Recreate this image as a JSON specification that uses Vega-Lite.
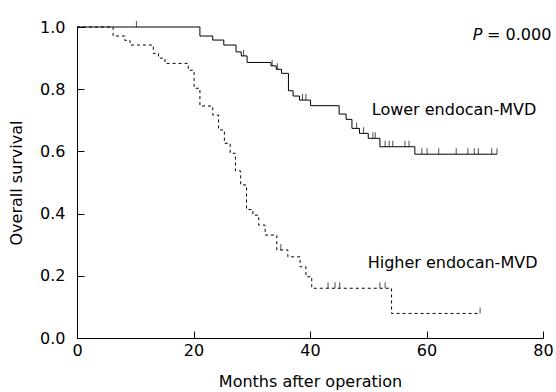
{
  "$schema": "https://vega.github.io/schema/vega-lite/v6.json",
  "width": 466,
  "height": 311,
  "autosize": "none",
  "padding": {"left": 77, "top": 27, "right": 13, "bottom": 54},
  "background": "white",
  "config": {
    "view": {"stroke": null},
    "font": "DejaVu Sans",
    "axis": {
      "grid": false,
      "domainColor": "#000",
      "domainWidth": 1,
      "tickColor": "#000",
      "tickWidth": 1,
      "labelColor": "#000",
      "titleColor": "#000",
      "labelFont": "DejaVu Sans",
      "titleFont": "DejaVu Sans",
      "labelFontSize": 16,
      "titleFontSize": 16,
      "titleFontWeight": "normal"
    }
  },
  "datasets": {
    "curves": [
      {"group": "Higher", "month": 0, "survival": 1.0},
      {"group": "Higher", "month": 6.2, "survival": 0.971},
      {"group": "Higher", "month": 8.2, "survival": 0.957},
      {"group": "Higher", "month": 9.1, "survival": 0.942},
      {"group": "Higher", "month": 13.1, "survival": 0.915},
      {"group": "Higher", "month": 14.0, "survival": 0.9},
      {"group": "Higher", "month": 15.1, "survival": 0.883},
      {"group": "Higher", "month": 19.1, "survival": 0.861},
      {"group": "Higher", "month": 20.1, "survival": 0.803},
      {"group": "Higher", "month": 21.1, "survival": 0.746},
      {"group": "Higher", "month": 23.3, "survival": 0.717},
      {"group": "Higher", "month": 24.3, "survival": 0.669},
      {"group": "Higher", "month": 25.3, "survival": 0.626},
      {"group": "Higher", "month": 26.3, "survival": 0.594},
      {"group": "Higher", "month": 27.2, "survival": 0.537},
      {"group": "Higher", "month": 28.1, "survival": 0.492},
      {"group": "Higher", "month": 29.1, "survival": 0.413},
      {"group": "Higher", "month": 30.2, "survival": 0.395},
      {"group": "Higher", "month": 31.2, "survival": 0.363},
      {"group": "Higher", "month": 32.3, "survival": 0.331},
      {"group": "Higher", "month": 34.3, "survival": 0.283},
      {"group": "Higher", "month": 36.2, "survival": 0.261},
      {"group": "Higher", "month": 38.3, "survival": 0.229},
      {"group": "Higher", "month": 39.3, "survival": 0.197},
      {"group": "Higher", "month": 40.3, "survival": 0.16},
      {"group": "Higher", "month": 54.0, "survival": 0.079},
      {"group": "Higher", "month": 69.2, "survival": 0.079},
      {"group": "Lower", "month": 0, "survival": 1.0},
      {"group": "Lower", "month": 21.1, "survival": 0.971},
      {"group": "Lower", "month": 23.3, "survival": 0.958},
      {"group": "Lower", "month": 25.2, "survival": 0.942},
      {"group": "Lower", "month": 27.3, "survival": 0.92},
      {"group": "Lower", "month": 28.2, "survival": 0.907},
      {"group": "Lower", "month": 29.2, "survival": 0.886},
      {"group": "Lower", "month": 33.3, "survival": 0.875},
      {"group": "Lower", "month": 34.2, "survival": 0.864},
      {"group": "Lower", "month": 35.1, "survival": 0.851},
      {"group": "Lower", "month": 36.3, "survival": 0.795},
      {"group": "Lower", "month": 37.1, "survival": 0.778},
      {"group": "Lower", "month": 38.2, "survival": 0.765},
      {"group": "Lower", "month": 40.1, "survival": 0.747},
      {"group": "Lower", "month": 45.0, "survival": 0.72},
      {"group": "Lower", "month": 46.2, "survival": 0.703},
      {"group": "Lower", "month": 47.2, "survival": 0.674},
      {"group": "Lower", "month": 48.5, "survival": 0.658},
      {"group": "Lower", "month": 50.0, "survival": 0.642},
      {"group": "Lower", "month": 52.0, "survival": 0.615},
      {"group": "Lower", "month": 58.0, "survival": 0.591},
      {"group": "Lower", "month": 72.1, "survival": 0.591}
    ],
    "censored": [
      {"group": "Lower", "month": 10.2, "survival": 1.0},
      {"group": "Lower", "month": 28.6, "survival": 0.907},
      {"group": "Lower", "month": 33.5, "survival": 0.875},
      {"group": "Lower", "month": 34.4, "survival": 0.864},
      {"group": "Lower", "month": 38.7, "survival": 0.765},
      {"group": "Lower", "month": 39.3, "survival": 0.765},
      {"group": "Lower", "month": 48.0, "survival": 0.674},
      {"group": "Lower", "month": 49.2, "survival": 0.658},
      {"group": "Lower", "month": 50.8, "survival": 0.642},
      {"group": "Lower", "month": 51.2, "survival": 0.642},
      {"group": "Lower", "month": 52.9, "survival": 0.615},
      {"group": "Lower", "month": 53.6, "survival": 0.615},
      {"group": "Lower", "month": 54.2, "survival": 0.615},
      {"group": "Lower", "month": 56.3, "survival": 0.615},
      {"group": "Lower", "month": 57.0, "survival": 0.615},
      {"group": "Lower", "month": 59.2, "survival": 0.591},
      {"group": "Lower", "month": 60.1, "survival": 0.591},
      {"group": "Lower", "month": 62.1, "survival": 0.591},
      {"group": "Lower", "month": 65.1, "survival": 0.591},
      {"group": "Lower", "month": 67.1, "survival": 0.591},
      {"group": "Lower", "month": 68.2, "survival": 0.591},
      {"group": "Lower", "month": 68.9, "survival": 0.591},
      {"group": "Lower", "month": 71.2, "survival": 0.591},
      {"group": "Lower", "month": 72.1, "survival": 0.591},
      {"group": "Higher", "month": 35.0, "survival": 0.283},
      {"group": "Higher", "month": 43.1, "survival": 0.16},
      {"group": "Higher", "month": 44.3, "survival": 0.16},
      {"group": "Higher", "month": 45.1, "survival": 0.16},
      {"group": "Higher", "month": 52.0, "survival": 0.16},
      {"group": "Higher", "month": 52.9, "survival": 0.16},
      {"group": "Higher", "month": 69.2, "survival": 0.079}
    ],
    "labels": [
      {"label": "Lower endocan-MVD", "month": 50.6, "survival": 0.733},
      {"label": "Higher endocan-MVD", "month": 49.9, "survival": 0.241},
      {"label": "= 0.000", "month": 70.4, "survival": 0.974}
    ],
    "pvalue": [
      {"label": "P", "month": 69.6, "survival": 0.974}
    ]
  },
  "layer": [
    {
      "data": {"name": "curves"},
      "transform": [{"filter": "datum.group === 'Higher'"}],
      "mark": {"type": "line", "interpolate": "step-after", "color": "#000", "strokeWidth": 1, "strokeDash": [3, 3]},
      "encoding": {
        "x": {"field": "month", "type": "quantitative", "scale": {"domain": [0, 80], "nice": false},
          "axis": {"values": [0, 20, 40, 60, 80], "title": "Months after operation", "tickSize": -7, "labelPadding": 11, "titlePadding": 15, "labelFlush": false}},
        "y": {"field": "survival", "type": "quantitative", "scale": {"domain": [0, 1], "nice": false},
          "axis": {"values": [0, 0.2, 0.4, 0.6, 0.8, 1.0], "format": ".1f", "title": "Overall survival", "tickSize": -7, "labelPadding": 19, "titlePadding": 15}}
      }
    },
    {
      "data": {"name": "curves"},
      "transform": [{"filter": "datum.group === 'Lower'"}],
      "mark": {"type": "line", "interpolate": "step-after", "color": "#000", "strokeWidth": 1},
      "encoding": {
        "x": {"field": "month", "type": "quantitative"},
        "y": {"field": "survival", "type": "quantitative"}
      }
    },
    {
      "data": {"name": "censored"},
      "mark": {"type": "tick", "orient": "vertical", "color": "#000", "thickness": 1, "size": 6, "yOffset": -3},
      "encoding": {
        "x": {"field": "month", "type": "quantitative"},
        "y": {"field": "survival", "type": "quantitative"}
      }
    },
    {
      "data": {"name": "labels"},
      "mark": {"type": "text", "align": "left", "baseline": "middle", "fontSize": 16, "color": "#000", "font": "DejaVu Sans"},
      "encoding": {
        "x": {"field": "month", "type": "quantitative"},
        "y": {"field": "survival", "type": "quantitative"},
        "text": {"field": "label"}
      }
    },
    {
      "data": {"name": "pvalue"},
      "mark": {"type": "text", "align": "right", "baseline": "middle", "fontSize": 16, "fontStyle": "italic", "color": "#000", "font": "DejaVu Sans"},
      "encoding": {
        "x": {"field": "month", "type": "quantitative"},
        "y": {"field": "survival", "type": "quantitative"},
        "text": {"field": "label"}
      }
    }
  ]
}
